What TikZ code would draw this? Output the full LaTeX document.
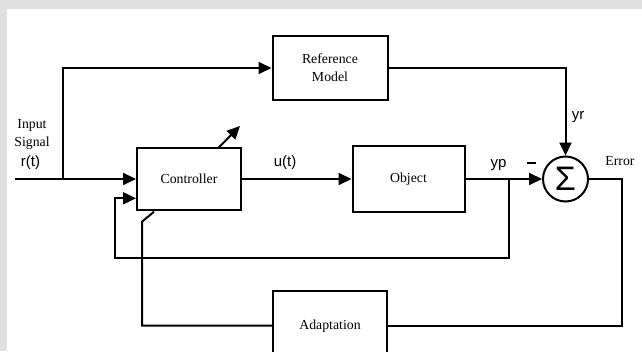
\documentclass[tikz,border=0pt]{standalone}
\usepackage{fontspec}
\setmainfont{Liberation Serif}
\newfontfamily\sansfont{Liberation Sans}
\usetikzlibrary{arrows.meta}
\definecolor{framegray}{RGB}{224,224,224}

\begin{document}
\begin{tikzpicture}[x=1pt,y=-1pt,
        block/.style={draw, line width=2pt, fill=white, align=center, inner sep=0pt,
            font=\fontsize{13.8}{18}\selectfont},
        txt/.style={font=\fontsize{13.8}{18}\selectfont, inner sep=0pt},
        sig/.style={font=\sansfont\fontsize{15}{17}\selectfont, inner sep=0pt},
        wire/.style={line width=2pt},
        arr/.style={wire, -{Triangle[length=13pt,width=12pt]}}]

        \clip (0,0) rectangle (642,351);
        \fill[framegray] (0,0) rectangle (642,351);
        \fill[white] (7,9) rectangle (642,351);

        \node[block, minimum width=115, minimum height=64] (ref) at (330,68) {Reference\\Model};
        \node[block, minimum width=104, minimum height=62] (ctrl) at (189,179) {Controller};
        \node[block, minimum width=112, minimum height=66] (obj) at (408.5,179) {Object};
        \node[block, minimum width=114, minimum height=69] (adapt) at (330,325.7) {Adaptation};
        \node[draw, circle, line width=2pt, minimum size=45, inner sep=0pt,
            font=\sansfont\fontsize{34}{36}\selectfont] (sum) at (565.5,179) {Σ};

        \node[txt] (lin) at (32,125) {Input};
        \node[txt] (lsig) at (32,143) {Signal};
        \node[sig] (lr) at (30.5,163) {r(t)};
        \node[sig] (lu) at (285,163) {u(t)};
        \node[sig] (lyp) at (498.5,165) {yp};
        \node[inner sep=0pt] (lminus) at (531.5,163) {\rule{9pt}{2.6pt}};
        \node[sig] (lyr) at (578,117) {yr};
        \node[txt] (lerr) at (620,161) {Error};

        \coordinate (in) at (15,179);
        \coordinate (br) at (63,179);
        \coordinate (sp) at (508.5,179);
        \coordinate (fb) at (114.6,258.3);
        \coordinate (fbin) at (114.6,198.3);
        \coordinate (er) at (622,325.7);
        \coordinate (ad1) at (142,221.7);
        \coordinate (ad2) at (154,211.7);
        \coordinate (t1) at (218,148.3);
        \coordinate (t2) at (240,126);

        \draw[arr] (in) -- (ctrl.west);
        \draw[arr] (br) |- (ref.west);
        \draw[arr] (ctrl.east) -- (obj.west);
        \draw[arr] (obj.east) -- (sum.west);
        \draw[arr] (ref.east) -| (sum.north);
        \draw[arr] (sp) |- (fb) -- (fbin) -- (ctrl.west |- fbin);
        \draw[wire] (sum.east) -| (er) -- (adapt.east);
        \draw[wire] (adapt.west) -| (ad1) -- (ad2);
        \draw[arr] (t1) -- (t2);
\end{tikzpicture}
\end{document}
